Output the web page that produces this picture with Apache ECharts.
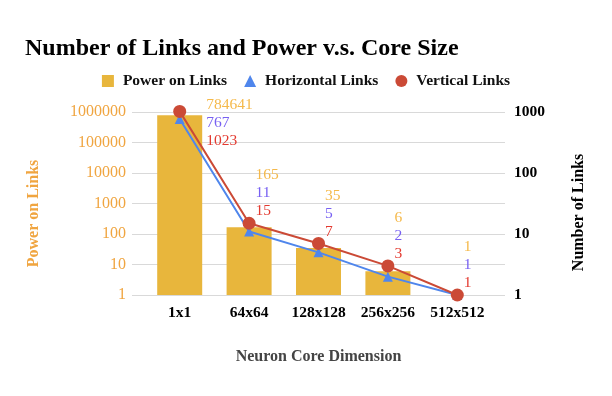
<!DOCTYPE html>
<html><head><meta charset="utf-8">
<script src="https://cdn.jsdelivr.net/npm/echarts@6/dist/echarts.min.js"></script>
<style>html,body{margin:0;padding:0;background:#fff}#c{width:612px;height:396px}</style>
</head><body><div id="c"></div>
<script>
var categories = ['1x1', '64x64', '128x128', '256x256', '512x512'];
var powerOnLinks = [784641, 165, 35, 6, 1];
var horizontalLinks = [767, 11, 5, 2, 1];
var verticalLinks = [1023, 15, 7, 3, 1];
var leftTicks = [1, 10, 100, 1000, 10000, 100000, 1000000];
var rightTicks = [1, 10, 100, 1000];

var serif = '"Liberation Serif","DejaVu Serif",serif';
var chart = echarts.init(document.getElementById('c'));
var TOP = 112, BOTTOM = 101;
chart.setOption({
  animation: false,
  title: {
    text: 'Number of Links and Power v.s. Core Size',
    left: 20, top: 32,
    textStyle: { fontFamily: serif, fontWeight: 'bold', fontSize: 24, color: '#000' }
  },
  legend: {
    top: 68, left: 'center',
    itemWidth: 12, itemHeight: 12, itemGap: 17,
    textStyle: { fontFamily: serif, fontWeight: 'bold', fontSize: 15.5, color: '#111', padding: [0, 0, 0, 4] },
    data: [
      { name: 'Power on Links', icon: 'rect' },
      { name: 'Horizontal Links', icon: 'triangle' },
      { name: 'Vertical Links', icon: 'circle' }
    ]
  },
  grid: [
    { left: 145, right: 120, top: TOP, bottom: BOTTOM },
    { left: 132, right: 107, top: TOP, bottom: BOTTOM }
  ],
  xAxis: [
    { type: 'category', gridIndex: 0, data: categories,
      axisLine: { show: false }, axisTick: { show: false },
      axisLabel: { fontFamily: serif, fontWeight: 'bold', fontSize: 15.5, color: '#000', margin: 10, interval: 0 },
      name: 'Neuron Core Dimension', nameLocation: 'middle', nameGap: 54,
      nameTextStyle: { fontFamily: serif, fontWeight: 'bold', fontSize: 16, color: '#444' } },
    { type: 'value', gridIndex: 1, min: 0, max: 1, show: false }
  ],
  yAxis: [
    { type: 'log', gridIndex: 0, min: 1, max: 1000000, show: false },
    { type: 'log', gridIndex: 0, min: 1, max: 1000, show: false },
    { type: 'log', gridIndex: 1, min: 1, max: 1000000, position: 'left',
      axisLine: { show: false }, axisTick: { show: false },
      splitLine: { show: true, lineStyle: { color: '#d9d9d9', width: 1 } },
      axisLabel: { fontFamily: serif, fontSize: 16, color: '#f0a540', margin: 6,
        formatter: function (v) { return leftTicks.indexOf(v) >= 0 ? String(v) : ''; } },
      name: 'Power on Links', nameLocation: 'middle', nameGap: 90, nameRotate: 90,
      nameTextStyle: { fontFamily: serif, fontWeight: 'bold', fontSize: 16, color: '#f0a540',
        padding: [0, 20, 0, 0] } },
    { type: 'log', gridIndex: 1, min: 1, max: 1000, position: 'right',
      axisLine: { show: false }, axisTick: { show: false }, splitLine: { show: false },
      axisLabel: { fontFamily: serif, fontWeight: 'bold', fontSize: 15.5, color: '#000', margin: 9,
        formatter: function (v) { return rightTicks.indexOf(v) >= 0 ? String(v) : ''; } },
      name: 'Number of Links', nameLocation: 'middle', nameGap: 66, nameRotate: 90,
      nameTextStyle: { fontFamily: serif, fontWeight: 'bold', fontSize: 16, color: '#000',
        padding: [0, 18, 0, 0] } }
  ],
  series: [
    { name: 'Power on Links', type: 'bar', xAxisIndex: 0, yAxisIndex: 0,
      data: powerOnLinks, barWidth: 45, itemStyle: { color: '#e8b63c' } },
    { name: 'Horizontal Links', type: 'line', xAxisIndex: 0, yAxisIndex: 1,
      data: horizontalLinks, symbol: 'triangle', symbolSize: 10, clip: false,
      lineStyle: { color: '#4f86ec', width: 2 }, itemStyle: { color: '#4f86ec' } },
    { name: 'Vertical Links', type: 'line', xAxisIndex: 0, yAxisIndex: 1,
      data: verticalLinks.map(function (v, i) {
        return i === 0 ? { value: v, label: { offset: [20, 12] } } : v;
      }),
      symbol: 'circle', symbolSize: 13, clip: false,
      lineStyle: { color: '#cb4a36', width: 2 }, itemStyle: { color: '#cb4a36' },
      z: 3,
      label: { show: true, position: 'right', distance: 0, offset: [0, -30], align: 'left',
        fontFamily: serif, fontSize: 15.5, lineHeight: 18,
        formatter: function (p) {
          var i = p.dataIndex;
          return '{a|' + powerOnLinks[i] + '}\n{b|' + horizontalLinks[i] + '}\n{c|' + verticalLinks[i] + '}';
        },
        rich: {
          a: { color: '#f5b94a', fontFamily: serif, fontSize: 15.5, lineHeight: 18 },
          b: { color: '#7760f2', fontFamily: serif, fontSize: 15.5, lineHeight: 18 },
          c: { color: '#e33a30', fontFamily: serif, fontSize: 15.5, lineHeight: 18 }
        } } },
    { type: 'line', xAxisIndex: 1, yAxisIndex: 2, data: [], silent: true },
    { type: 'line', xAxisIndex: 1, yAxisIndex: 3, data: [], silent: true }
  ]
});
</script></body></html>
